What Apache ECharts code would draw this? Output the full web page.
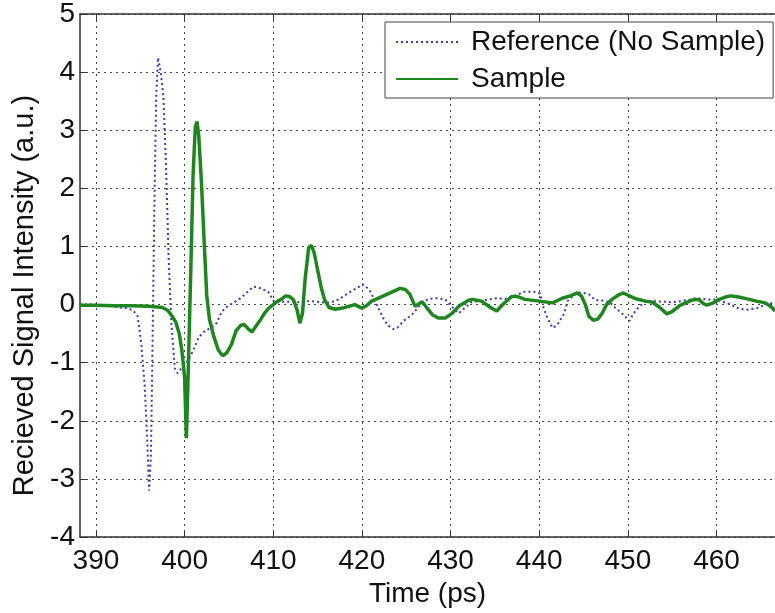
<!DOCTYPE html>
<html>
<head>
<meta charset="utf-8">
<script src="https://cdn.jsdelivr.net/npm/echarts@6/dist/echarts.min.js"></script>
<style>
html,body{margin:0;padding:0;background:#fff;}
#chart{width:775px;height:613px;}
</style>
</head>
<body>
<div id="chart"></div>
<script>
// ---- Data ----
var timeTicks = [390, 400, 410, 420, 430, 440, 450, 460];

var refTime = [388.2,390,391.5,392.5,393.5,394.2,394.7,395.1,395.5,395.8,396.0,396.2,396.4,396.6,396.8,397.0,397.3,397.6,397.9,398.2,398.5,398.9,399.2,399.7,400.3,401.0,401.6,402.3,403.0,403.6,404.2,404.9,405.6,406.4,407.1,407.8,408.3,408.8,409.4,410.1,411.0,412.0,413.0,414.0,415.0,416.0,417.0,417.9,418.8,419.7,420.1,420.8,421.3,421.8,422.4,422.9,423.5,424.0,424.7,425.6,426.5,427.5,428.4,429.4,430.1,430.9,431.6,432.4,433.5,434.3,435.2,436.2,437.2,438.3,439.4,440.1,440.5,440.9,441.5,442.0,442.8,443.2,443.8,444.3,445.0,445.6,446.3,447.1,448.0,448.6,449.4,450.2,450.6,451.3,452.0,453.0,454.0,455.0,456.0,457.0,457.6,458.8,459.9,460.7,461.5,462.4,463.3,464.6,465.5,466.0,466.6];
var refSignal = [0.0,0.0,-0.02,-0.05,-0.06,-0.1,-0.2,-0.65,-1.4,-2.4,-3.2,-2.6,-0.5,1.8,3.6,4.25,4.0,3.6,2.4,0.8,-0.3,-1.1,-1.18,-1.08,-0.98,-0.78,-0.56,-0.45,-0.4,-0.32,-0.12,-0.02,0.04,0.12,0.22,0.31,0.3,0.26,0.23,0.05,0.05,0.05,0.04,0.06,0.05,0.03,0.06,0.14,0.23,0.31,0.35,0.26,0.12,-0.04,-0.23,-0.35,-0.42,-0.4,-0.28,-0.18,-0.02,0.1,0.11,0.09,-0.03,-0.15,-0.06,0.05,0.06,0.09,0.11,0.1,0.15,0.22,0.22,0.19,-0.06,-0.22,-0.4,-0.36,-0.16,0.06,0.15,0.21,0.2,0.18,0.08,0.07,0.04,-0.06,-0.16,-0.28,-0.16,-0.03,0.06,0.06,0.05,0.04,0.06,0.09,0.11,0.09,0.09,0.05,0.01,-0.06,-0.09,-0.06,0.0,0.03,0.0];

var sampleTime = [388.2,390,392,394,396,397.5,398.1,398.6,399.0,399.4,399.7,400.0,400.2,400.35,400.5,400.7,400.95,401.2,401.4,401.6,401.9,402.2,402.5,402.8,403.3,403.8,404.3,404.8,405.3,405.8,406.3,406.7,407.2,407.6,408.1,408.6,409.0,409.5,410.0,410.5,410.9,411.4,411.8,412.3,412.7,413.0,413.3,413.6,414.0,414.3,414.6,415.0,415.4,415.8,416.3,417.0,417.8,418.5,419.2,420.0,420.5,421.1,422.0,423.0,424.3,424.9,425.4,426.0,426.5,426.8,427.3,428.0,428.6,429.4,430.1,431.0,432.0,432.5,433.5,434.5,435.2,436.0,436.9,437.5,438.4,440.0,441.5,442.6,443.5,444.3,444.8,445.2,445.6,446.1,446.6,447.1,447.6,448.2,449.0,449.5,450.3,450.9,452.0,452.8,453.6,454.4,455.0,455.8,456.5,457.3,458.0,458.5,458.9,459.5,460.3,461.0,461.6,462.5,463.7,464.5,465.5,466.2,466.6];
var sampleSignal = [-0.01,-0.01,-0.02,-0.02,-0.03,-0.05,-0.1,-0.2,-0.3,-0.5,-0.8,-1.25,-2.3,-1.5,-0.6,0.6,2.2,3.05,3.15,2.9,2.1,1.1,0.15,-0.25,-0.55,-0.78,-0.88,-0.82,-0.68,-0.45,-0.36,-0.34,-0.42,-0.47,-0.36,-0.25,-0.15,-0.06,0.0,0.06,0.09,0.15,0.14,0.08,-0.1,-0.32,-0.15,0.45,0.98,1.02,0.9,0.6,0.3,0.08,-0.05,-0.08,-0.06,-0.03,0.0,-0.06,-0.02,0.06,0.12,0.19,0.28,0.26,0.18,-0.03,0.02,0.05,-0.05,-0.18,-0.23,-0.23,-0.16,-0.02,0.07,0.09,0.06,-0.05,-0.11,0.02,0.14,0.14,0.09,0.06,0.03,0.11,0.15,0.2,0.14,0.0,-0.2,-0.27,-0.25,-0.15,0.0,0.09,0.17,0.2,0.14,0.1,0.06,0.04,-0.05,-0.16,-0.12,-0.02,0.03,0.08,0.09,0.02,-0.01,0.02,0.09,0.13,0.15,0.13,0.09,0.06,0.03,-0.04,-0.11];

function pairs(xs, ys) {
  var out = [];
  for (var i = 0; i < xs.length; i++) out.push([xs[i], ys[i]]);
  return out;
}

var FONT = '"Liberation Sans", Arial, sans-serif';
var FS = 28;
var AXIS_COLOR = '#333';
var GRID_LINE = { show: true, lineStyle: { color: '#444', width: 1, type: [2, 4] } };

var chart = echarts.init(document.getElementById('chart'), null, { renderer: 'canvas' });
chart.setOption({
  animation: false,
  backgroundColor: '#ffffff',
  textStyle: { fontFamily: FONT },
  grid: { left: 80, right: 0, top: 12, bottom: 69, containLabel: false },
  legend: {
    left: 385, top: 22,
    orient: 'vertical',
    backgroundColor: '#ffffff',
    borderColor: '#444', borderWidth: 1,
    padding: [4, 8, 3, 10],
    itemGap: 5,
    itemWidth: 62, itemHeight: 14,
    itemStyle: { opacity: 0 },
    textStyle: { fontFamily: FONT, fontSize: FS, color: '#111', lineHeight: 32, padding: [0, 0, 0, 8] },
    data: ['Reference (No Sample)', 'Sample']
  },
  xAxis: [{
    type: 'value',
    position: 'bottom',
    min: 388.2, max: 466.6,
    name: 'Time (ps)',
    nameLocation: 'middle',
    nameGap: 38,
    nameTextStyle: { fontFamily: FONT, fontSize: FS, color: '#111' },
    axisLine: { show: true, onZero: false, lineStyle: { color: AXIS_COLOR, width: 1.5 } },
    axisTick: { show: true, inside: true, length: 6, customValues: timeTicks, lineStyle: { color: AXIS_COLOR } },
    axisLabel: { customValues: timeTicks, fontFamily: FONT, fontSize: FS, color: '#111', margin: 10 },
    splitLine: GRID_LINE
  }, {
    type: 'value',
    position: 'top',
    min: 388.2, max: 466.6,
    axisLine: { show: true, onZero: false, lineStyle: { color: AXIS_COLOR, width: 1.5 } },
    axisTick: { show: true, inside: true, length: 6, customValues: timeTicks, lineStyle: { color: AXIS_COLOR } },
    axisLabel: { show: false },
    splitLine: { show: false }
  }],
  yAxis: {
    type: 'value',
    min: -4, max: 5, interval: 1,
    name: 'Recieved Signal Intensity (a.u.)',
    nameLocation: 'middle',
    nameGap: 38,
    nameTextStyle: { fontFamily: FONT, fontSize: 29, color: '#111', padding: [0, 40, 0, 0] },
    axisLine: { show: true, onZero: false, lineStyle: { color: AXIS_COLOR, width: 1.5 } },
    axisTick: { show: true, inside: true, length: 6, lineStyle: { color: AXIS_COLOR } },
    axisLabel: { fontFamily: FONT, fontSize: FS, color: '#111', margin: 5 },
    splitLine: GRID_LINE
  },
  series: [{
    name: 'Reference (No Sample)',
    type: 'line',
    xAxisIndex: 0,
    data: pairs(refTime, refSignal),
    showSymbol: false, symbol: 'none',
    lineStyle: { color: '#3c3ca6', width: 2, type: [2, 3] },
    itemStyle: { color: '#3c3ca6' },
    z: 2
  }, {
    name: 'Sample',
    type: 'line',
    xAxisIndex: 0,
    data: pairs(sampleTime, sampleSignal),
    showSymbol: false, symbol: 'none',
    lineStyle: { color: '#1f861f', width: 3.5 },
    itemStyle: { color: '#1f861f' },
    z: 3
  }]
});
</script>
</body>
</html>
